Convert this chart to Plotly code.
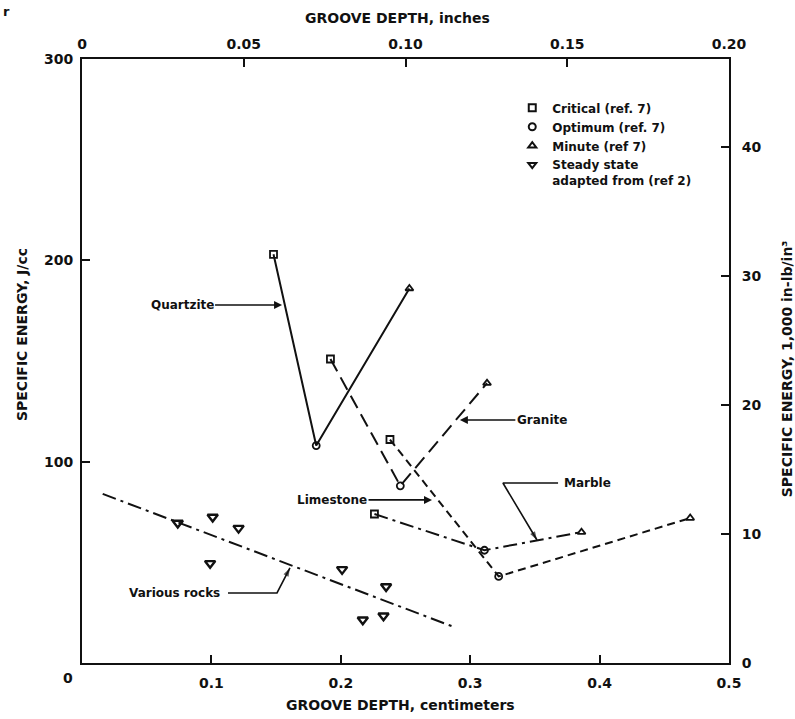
import plotly.graph_objects as go

# Groove depth (cm) and specific energy (J/cc) for each rock type:
# points are critical, optimum, minute depth in that order.
quartzite_depth = [0.148, 0.181, 0.253]
quartzite_energy = [203, 108, 186]
granite_depth = [0.192, 0.246, 0.313]
granite_energy = [151, 88, 139]
limestone_depth = [0.238, 0.322, 0.470]
limestone_energy = [111, 43, 72]
marble_depth = [0.226, 0.311, 0.386]
marble_energy = [74, 56, 65]

# Steady-state data for various rocks and its fitted trend
steady_depth = [0.074, 0.101, 0.121, 0.099, 0.201, 0.235, 0.217, 0.233]
steady_energy = [69.5, 72.5, 67, 49.5, 46.5, 38, 21.5, 23.5]
trend_depth = [0.016, 0.287]
trend_energy = [84, 18]

bottom_ticks = [0.1, 0.2, 0.3, 0.4, 0.5]
top_ticks = [0, 0.05, 0.10, 0.15, 0.20]
top_ticktext = ["0", "0.05", "0.10", "0.15", "0.20"]
left_ticks = [100, 200, 300]
right_ticks = [0, 10, 20, 30, 40]

FONT = "DejaVu Sans"
INK = "#111111"
SYMBOLS = ["square-open", "circle-open", "triangle-up-open"]

fig = go.Figure()


def rock_trace(x, y, dash):
    fig.add_trace(go.Scatter(
        x=x, y=y, mode="lines+markers", showlegend=False,
        line=dict(color=INK, width=2, dash=dash),
        marker=dict(symbol=SYMBOLS, size=7, color=INK,
                    line=dict(color=INK, width=1.8)),
    ))


rock_trace(quartzite_depth, quartzite_energy, "solid")
rock_trace(granite_depth, granite_energy, "14px,7px")
rock_trace(limestone_depth, limestone_energy, "8px,5px")
rock_trace(marble_depth, marble_energy, "14px,5px,3px,5px")

fig.add_trace(go.Scatter(
    x=trend_depth, y=trend_energy, mode="lines", showlegend=False,
    line=dict(color=INK, width=2, dash="14px,5px,3px,5px"),
))
fig.add_trace(go.Scatter(
    x=steady_depth, y=steady_energy, mode="markers", showlegend=False,
    marker=dict(symbol="triangle-down-open", size=9, color=INK,
                line=dict(color=INK, width=2.4)),
))


def bent_leader(xs, ys):
    """Polyline leader ending in an arrowhead that follows the last segment."""
    n = len(xs)
    fig.add_trace(go.Scatter(
        x=xs, y=ys, mode="lines+markers", showlegend=False, hoverinfo="skip",
        line=dict(color=INK, width=1.6),
        marker=dict(symbol=["circle"] * (n - 1) + ["arrow"],
                    size=[0] * (n - 1) + [9], angleref="previous",
                    color=INK, line=dict(width=0)),
    ))


# Leaders for the marble and various-rocks labels
bent_leader([0.3679, 0.3253, 0.3516], [89.4, 89.4, 61.1])
bent_leader([0.1128, 0.1507, 0.1607], [34.8, 34.8, 47.2])

# Legend entries (symbols only)
legend_items = [
    ("square-open", "Critical (ref. 7)"),
    ("circle-open", "Optimum (ref. 7)"),
    ("triangle-up-open", "Minute (ref 7)"),
    ("triangle-down-open", "Steady state<br>adapted from (ref 2)"),
]
for sym, name in legend_items:
    fig.add_trace(go.Scatter(
        x=[None], y=[None], mode="markers", name=name,
        marker=dict(symbol=sym, size=7, color=INK,
                    line=dict(color=INK, width=2)),
    ))

# Invisible trace that carries the top and right scales
fig.add_trace(go.Scatter(x=[None], y=[None], xaxis="x2", yaxis="y2",
                         showlegend=False, hoverinfo="skip"))

axis_common = dict(
    showgrid=False, zeroline=False, showline=True, linecolor=INK,
    linewidth=2, ticks="inside", ticklen=8, tickwidth=2, tickcolor=INK,
    tickfont=dict(family=FONT, size=14, color=INK, weight="bold"),
    automargin=False,
)

fig.update_layout(
    width=795, height=719,
    margin=dict(l=82, r=66, t=59, b=56),
    paper_bgcolor="white", plot_bgcolor="white",
    xaxis=dict(range=[0, 0.5], tickvals=bottom_ticks,
               ticktext=[str(v) for v in bottom_ticks],
               ticklabelstandoff=6, **axis_common),
    xaxis2=dict(range=[0, 0.2], overlaying="x", side="top",
                tickvals=top_ticks, ticktext=top_ticktext,
                ticklabelstandoff=2, **axis_common),
    yaxis=dict(range=[0, 300], tickvals=left_ticks,
               ticklabelstandoff=4, **axis_common),
    yaxis2=dict(range=[0, 46.8], overlaying="y", side="right",
                tickvals=right_ticks, ticklabelstandoff=8, **axis_common),
    legend=dict(x=0.665, y=0.943, xanchor="left", yanchor="top",
                bgcolor="rgba(0,0,0,0)", borderwidth=0, valign="top",
                font=dict(family=FONT, size=12, color=INK, weight="bold"),
                itemwidth=30, tracegroupgap=0),
)

# Axis titles
title_font = dict(family=FONT, size=14, color=INK, weight="bold")
for text, x, y, angle in [
    ("GROOVE DEPTH, inches", 0.487, 1.068, 0),
    ("GROOVE DEPTH, centimeters", 0.492, -0.0695, 0),
    ("SPECIFIC ENERGY, J/cc", -0.0927, 0.543, -90),
    ("SPECIFIC ENERGY, 1,000 in-lb/in³", 1.0896, 0.488, -90),
]:
    fig.add_annotation(xref="paper", yref="paper", x=x, y=y, text=text,
                       textangle=angle, xanchor="center", yanchor="middle",
                       showarrow=False, font=title_font)

label_font = dict(family=FONT, size=12, color=INK, weight="bold")
arrow_style = dict(arrowcolor=INK, arrowwidth=1.6, arrowhead=2,
                   arrowsize=1, standoff=0)

# Straight leader arrows
for text, x, y, ax in [
    ("Quartzite", 0.1546, 177.8, -100),
    ("Granite", 0.292, 120.7, 82),
    ("Limestone", 0.2705, 81, -100),
]:
    fig.add_annotation(x=x, y=y, text=text, showarrow=True, ax=ax, ay=0,
                       font=label_font, **arrow_style)

fig.add_annotation(x=0.371, y=89.4, text="Marble", showarrow=False,
                   xanchor="left", font=label_font)
fig.add_annotation(x=0.108, y=34.8, text="Various rocks", showarrow=False,
                   xanchor="right", font=label_font)

# Shared origin label at the lower-left corner
fig.add_annotation(xref="paper", yref="paper", x=-0.0216, y=-0.025,
                   xanchor="center", yanchor="middle",
                   text="0", showarrow=False,
                   font=dict(family=FONT, size=14, color=INK, weight="bold"))

# Fragment of neighbouring text in the top-left margin
fig.add_annotation(xref="paper", yref="paper", x=-0.117, y=1.078,
                   xanchor="center", yanchor="middle",
                   text="r", showarrow=False,
                   font=dict(family=FONT, size=13, color=INK, weight="bold"))

fig.write_html("out.html")
